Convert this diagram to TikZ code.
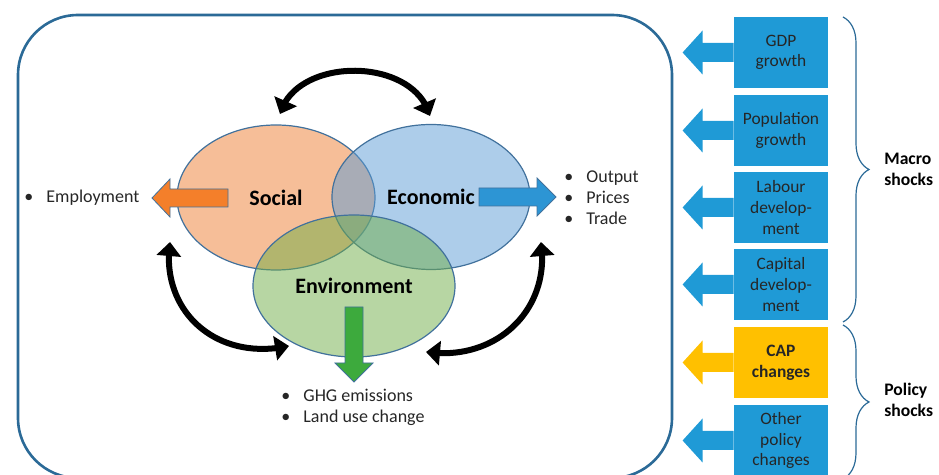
\documentclass[tikz,border=0pt]{standalone}
\usepackage{fontspec}
\setmainfont{Carlito}
\usetikzlibrary{ % tikz packages
    shapes.geometric,decorations.pathreplacing,
    arrows.meta,bending
}
\definecolor{frameblue}{HTML}{2B6A97}
\definecolor{edgeblue}{HTML}{41719C}
\definecolor{socorange}{HTML}{ED7D31}
\definecolor{ecoblue}{HTML}{5B9BD5}
\definecolor{envgreen}{HTML}{70AD47}
\definecolor{arroworange}{HTML}{F47F2A}
\definecolor{arrowblue}{HTML}{2D95D4}
\definecolor{arrowgreen}{HTML}{3DAA3D}
\definecolor{shockblue}{HTML}{1F9AD6}
\definecolor{capgold}{HTML}{FFC000}
\tikzset{pillar/.style={
    ellipse,
    draw=edgeblue,
    line width=0.6pt,
    fill opacity=0.5,
    text opacity=1,
    inner sep=0pt,
    minimum width=99pt,
    minimum height=72.5pt,
    font=\fontsize{11}{13}\selectfont\bfseries
}}
\tikzset{shock/.style={
    rectangle,
    inner sep=0pt,
    minimum width=47pt,
    minimum height=35.5pt,
    align=center,
    text=black!85,
    font=\fontsize{8.7}{10.3}\selectfont
}}
\tikzset{linkarrow/.style={
    line width=3pt,
    {Triangle[width=12pt,length=7pt]}-{Triangle[width=12pt,length=7pt]}
}}
\tikzset{bulletlist/.style={
    anchor=west,
    inner sep=0pt,
    align=left,
    text=black!85,
    font=\fontsize{9}{10.5}\selectfont
}}
\newcommand{\bitem}{\makebox[11pt][l]{\textbullet}}

\begin{document}
\begin{tikzpicture}[x=0.5pt,y=-0.5pt]
        \useasboundingbox (0,0) rectangle (939,475);
        \clip (0,0) rectangle (939,475);

        % frame round the model
        \draw[frameblue, line width=1.3pt, rounded corners=30pt] (18,15) rectangle (672,478);

        % the three pillars
        \node[pillar, fill=socorange] (soc) at (276,197.5) {};
        \node[pillar, fill=ecoblue] (eco) at (431,197) {};
        \node[pillar, fill=envgreen, minimum width=101pt, minimum height=71pt] (env) at (354,286) {};
        \node[font=\fontsize{11}{13}\selectfont\bfseries] at (soc) {Social};
        \node[font=\fontsize{11}{13}\selectfont\bfseries] at (eco) {Economic};
        \node[font=\fontsize{11}{13}\selectfont\bfseries] at (env) {Environment};

        % outputs
        \node[bulletlist] (emp) at (24,198) {\bitem Employment};
        \node[bulletlist] (outlist) at (564,198) {\bitem Output\\\bitem Prices\\\bitem Trade};
        \node[bulletlist] (envlist) at (281,407.5) {\bitem GHG emissions\\\bitem Land use change};

        \filldraw[fill=arroworange, draw=edgeblue, line width=0.4pt]
            (228,189) -- (170,189) -- (170,179) -- (152,198) -- (170,217) -- (170,207) -- (228,207) -- cycle;
        \filldraw[fill=arrowblue, draw=edgeblue, line width=0.4pt]
            (479,188) -- (537,188) -- (537,178) -- (556,197) -- (537,216) -- (537,206) -- (479,206) -- cycle;
        \filldraw[fill=arrowgreen, draw=edgeblue, line width=0.4pt]
            (345,307) -- (363,307) -- (363,363) -- (373,363) -- (354,382) -- (335,363) -- (345,363) -- cycle;

        % links between the pillars
        \coordinate (topL) at (280,114);
        \coordinate (topR) at (430,116);
        \coordinate (sideL1) at (170,242);
        \coordinate (sideL2) at (289,346);
        \coordinate (sideR1) at (541,242);
        \coordinate (sideR2) at (426,352);
        \draw[linkarrow] (topL) .. controls (296,56) and (414,56) .. (topR);
        \draw[linkarrow] (sideL1) .. controls (160,310) and (215,362) .. (sideL2);
        \draw[linkarrow] (sideR1) .. controls (551,310) and (496,362) .. (sideR2);

        % shocks
        \foreach \c/\nm/\col/\txt in {
            52.5/gdp/shockblue/{GDP\\growth},
            130.5/pop/shockblue/{Population\\growth},
            207.5/lab/shockblue/{Labour\\develop-\\ment},
            284.5/capt/shockblue/{Capital\\develop-\\ment},
            362.5/cap/capgold/{\textbf{CAP}\\\textbf{changes}},
            440.5/oth/shockblue/{Other\\policy\\changes}}
        {
            \node[shock, fill=\col] (\nm) at (781,\c) {\txt};
            \fill[\col] (\nm.west) ++(0,-9.5) -- ++(-31,0) -- ++(0,-12.5) -- ++(-20,22)
                -- ++(20,22) -- ++(0,-12.5) -- ++(31,0) -- cycle;
        }

        \draw[frameblue, line width=0.6pt, decorate, decoration={brace, amplitude=13pt}]
            (843,17) -- (843,322);
        \draw[frameblue, line width=0.6pt, decorate, decoration={brace, amplitude=13pt}]
            (843,325) -- (843,479);
        \node[anchor=west, align=left, inner sep=0pt, font=\fontsize{8.8}{10.5}\selectfont\bfseries] (macro) at (884,169) {Macro\\shocks};
        \node[anchor=west, align=left, inner sep=0pt, font=\fontsize{8.8}{10.5}\selectfont\bfseries] (policy) at (884,400) {Policy\\shocks};
\end{tikzpicture}
\end{document}
